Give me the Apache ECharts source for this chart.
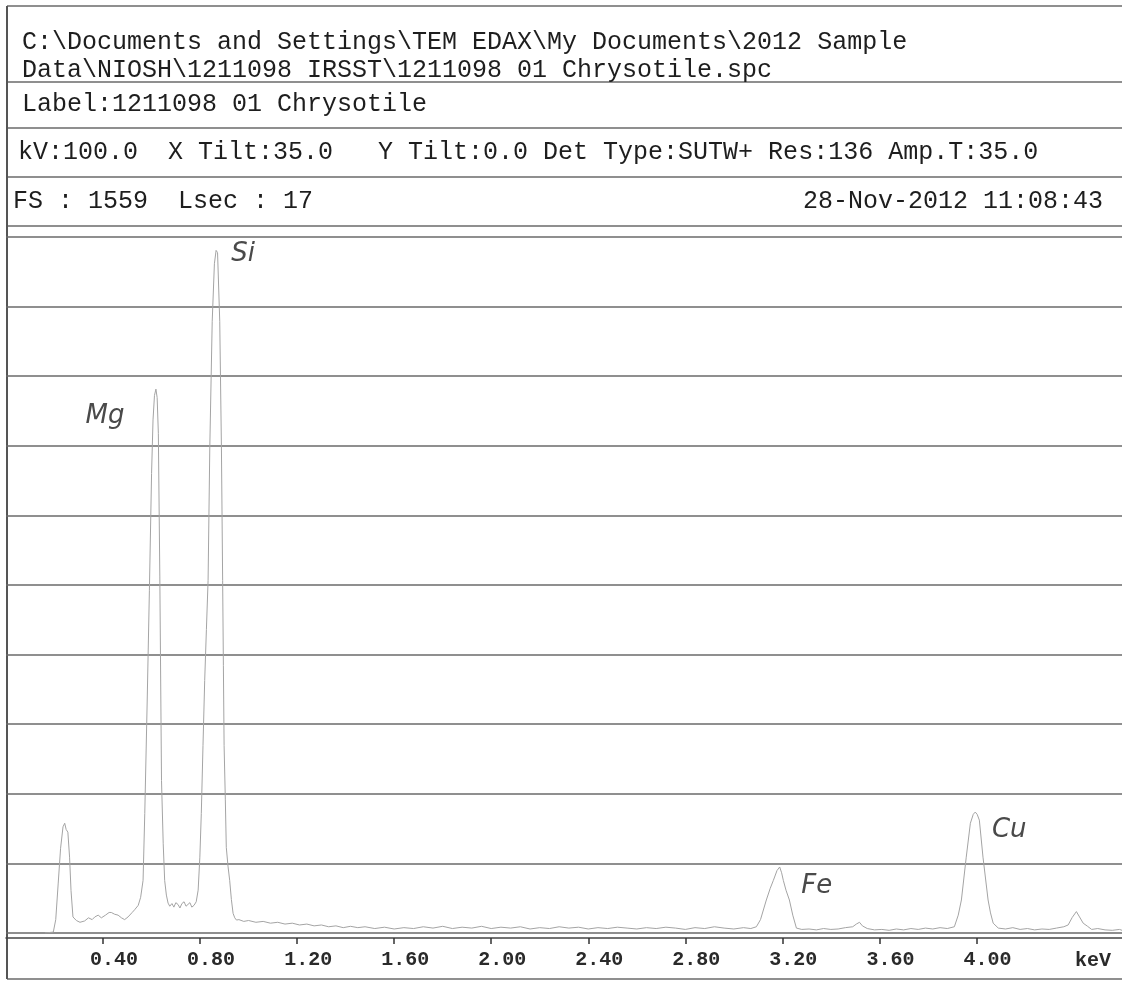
<!DOCTYPE html>
<html>
<head>
<meta charset="utf-8">
<script src="https://cdn.jsdelivr.net/npm/echarts@6/dist/echarts.min.js"></script>
<style>
html,body{margin:0;padding:0;background:#fff;}
#chart{width:1122px;height:981px;}
</style>
</head>
<body>
<div id="chart"></div>
<script>
// Energy axis (keV, as printed on the plot) and counts
const energy = [
0.16,0.195,0.205,0.215,0.225,0.235,0.242,0.248,0.255,0.262,0.268,0.276,0.29,0.305,0.324,0.34,0.355,0.366,0.38,0.393,
0.41,0.425,0.434,0.448,0.462,0.476,0.489,0.503,0.52,0.53,0.545,0.555,0.565,0.572,0.582,0.591,0.600,0.606,0.612,0.618,
0.623,0.628,0.634,0.641,0.648,0.654,0.661,0.668,0.675,0.684,0.692,0.700,0.709,0.717,0.725,0.734,0.742,0.750,0.758,0.766,
0.775,0.784,0.792,0.799,0.805,0.812,0.819,0.826,0.833,0.840,0.850,0.859,0.866,0.872,0.881,0.888,0.893,0.896,0.899,0.904,
0.908,0.915,0.922,0.929,0.936,0.943,0.950,0.96,0.98,1.00,1.03,1.06,1.09,1.12,1.15,1.18,1.21,1.24,1.27,1.30,
1.33,1.36,1.39,1.42,1.45,1.48,1.52,1.56,1.60,1.64,1.68,1.72,1.76,1.80,1.84,1.88,1.92,1.96,2.00,2.04,
2.08,2.12,2.16,2.20,2.24,2.28,2.32,2.36,2.40,2.44,2.48,2.52,2.56,2.60,2.64,2.68,2.72,2.76,2.80,2.84,
2.88,2.92,2.96,3.00,3.04,3.07,3.093,3.11,3.134,3.15,3.163,3.178,3.189,3.197,3.204,3.215,3.229,3.243,3.258,3.28,
3.31,3.34,3.37,3.40,3.43,3.46,3.49,3.505,3.518,3.53,3.55,3.58,3.61,3.64,3.67,3.70,3.73,3.76,3.79,3.82,
3.85,3.88,3.909,3.925,3.938,3.958,3.975,3.987,3.995,4.003,4.012,4.027,4.048,4.058,4.069,4.09,4.12,4.15,4.18,4.21,
4.24,4.27,4.30,4.33,4.36,4.378,4.395,4.412,4.425,4.44,4.458,4.475,4.50,4.53,4.56,4.59,4.60
];
const counts = [
0,2,30,110,190,238,246,232,226,170,95,36,28,24,27,34,30,36,40,34,
40,46,46,42,40,34,30,36,46,52,62,80,118,268,520,767,1030,1150,1205,1219,
1200,1120,800,342,200,118,85,67,60,66,58,68,64,56,66,70,60,64,68,58,
62,70,96,170,268,420,566,680,790,1087,1371,1500,1530,1525,1371,1087,790,600,420,300,
192,150,118,75,44,34,29,30,26,28,24,26,22,24,20,22,18,20,16,18,
14,16,12,15,12,14,10,13,9,12,10,14,11,15,10,13,11,15,10,13,
11,14,9,12,10,14,11,13,9,12,10,13,11,9,12,10,13,11,8,12,
10,14,11,9,12,10,14,30,74,100,118,140,148,135,118,96,74,40,11,8,
9,7,10,8,9,12,14,20,24,16,10,7,8,6,9,7,10,8,11,9,
12,10,14,40,74,170,246,266,271,266,253,170,74,45,22,11,9,12,8,10,
7,9,8,11,14,18,35,48,36,22,15,8,10,7,6,8,6
];
const tickValues = [0.4,0.8,1.2,1.6,2.0,2.4,2.8,3.2,3.6,4.0];
const peakNames = ['Si','Mg','Fe','Cu'];
const peakEnergy = [0.866,0.618,3.189,3.995];
const peakCounts = [1530,1219,148,271];
const fullScale = 1560;

const headerLines = [
  'C:\\Documents and Settings\\TEM EDAX\\My Documents\\2012 Sample',
  'Data\\NIOSH\\1211098 IRSST\\1211098 01 Chrysotile.spc',
  'Label:1211098 01 Chrysotile',
  'kV:100.0  X Tilt:35.0   Y Tilt:0.0 Det Type:SUTW+ Res:136 Amp.T:35.0',
  'FS : 1559  Lsec : 17',
  '28-Nov-2012 11:08:43'
];

const data = energy.map((e, i) => [e, counts[i]]);
const labelOffsets = [[27,4],[-51,27],[37,19],[34,18]];

const chart = echarts.init(document.getElementById('chart'), null, {renderer:'canvas', width:1122, height:981});

const mono = '"Liberation Mono", "DejaVu Sans Mono", monospace';
const hdrFont = '25px ' + mono;
const lineCol = '#6a6a6a';

function hline(y){ return {type:'line', shape:{x1:7,y1:y,x2:1122,y2:y}, style:{stroke:lineCol, lineWidth:1.5}, silent:true}; }
function txt(t, x, y, align){ return {type:'text', style:{text:t, x:x, y:y, font:hdrFont, fill:'#1e1e1e', align:align||'left', verticalAlign:'middle'}, silent:true}; }

chart.setOption({
  backgroundColor:'#ffffff',
  animation:false,
  grid:{left:6, right:0, top:237, bottom:48, outerBoundsMode:'none'},
  xAxis:{
    type:'value', min:0, max:4.6, offset:5,
    splitLine:{show:false},
    axisLine:{show:true, onZero:false, lineStyle:{color:'#444', width:1.5}},
    axisTick:{show:true, customValues:tickValues, length:6, lineStyle:{color:'#333', width:1.5}},
    axisLabel:{customValues:tickValues, formatter:v=>Number(v).toFixed(2), fontFamily:mono, fontWeight:'bold', fontSize:20, color:'#2a2a2a', margin:12, padding:[0,0,0,22]}
  },
  yAxis:{
    type:'value', min:0, max:fullScale, interval:fullScale/10,
    axisLine:{show:false}, axisTick:{show:false}, axisLabel:{show:false},
    splitLine:{show:true, lineStyle:{color:lineCol, width:1.5}}
  },
  series:[{
    type:'line', data:data, showSymbol:false, symbol:'none',
    lineStyle:{color:'#a4a4a4', width:1},
    markPoint:{
      symbol:'circle', symbolSize:1, itemStyle:{color:'rgba(0,0,0,0)'},
      label:{show:true, formatter:'{b}', fontFamily:'"DejaVu Sans", sans-serif', fontStyle:'italic', fontSize:26, color:'#4a4a4a'},
      data: peakNames.map((n,i)=>({name:n, coord:[peakEnergy[i], peakCounts[i]], label:{offset:labelOffsets[i]}}))
    }
  }],
  graphic:[
    hline(6), hline(82), hline(128), hline(177), hline(226), hline(979),
    {type:'line', shape:{x1:7,y1:6,x2:7,y2:979}, style:{stroke:'#555', lineWidth:2}, silent:true},
    txt(headerLines[0], 22, 42),
    txt(headerLines[1], 22, 70),
    txt(headerLines[2], 22, 104),
    txt(headerLines[3], 18, 152),
    txt(headerLines[4], 13, 201),
    txt(headerLines[5], 1103, 201, 'right'),
    {type:'text', style:{text:'keV', x:1075, y:961, font:'bold 20px ' + mono, fill:'#2a2a2a', align:'left', verticalAlign:'middle'}, silent:true}
  ]
});
</script>
</body>
</html>
